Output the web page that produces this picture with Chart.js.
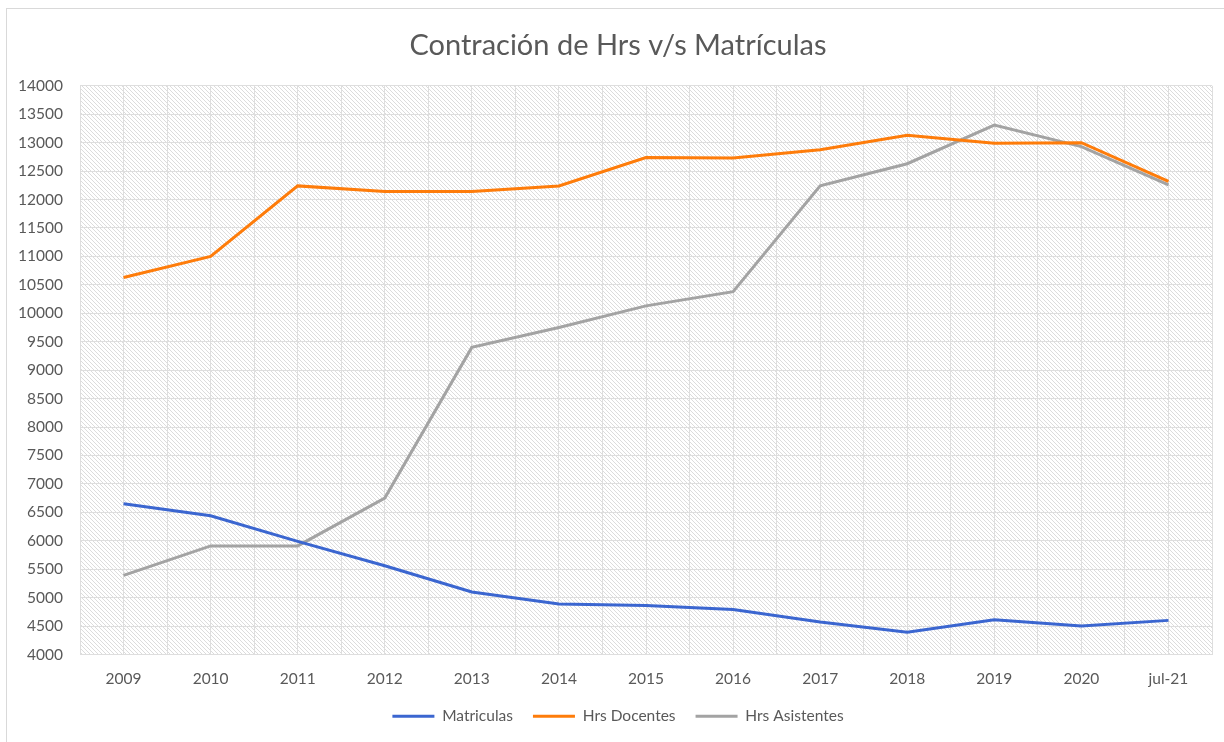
<!DOCTYPE html>
<html>
<head>
<meta charset="utf-8">
<script src="https://cdn.jsdelivr.net/npm/chart.js@4/dist/chart.umd.min.js"></script>
<style>
  html, body { margin: 0; padding: 0; background: #fff; }
  #wrap { position: absolute; left: 0; top: 0; width: 1224px; height: 742px; }
  #frame { position: absolute; left: 6px; top: 8px; width: 1230px; height: 760px;
           border-left: 1px solid #d9d9d9; border-top: 1px solid #d9d9d9; pointer-events: none; }
</style>
</head>
<body>
<div id="wrap">
  <canvas id="grafico" width="1224" height="742"></canvas>
  <div id="frame"></div>
</div>
<script>
// categorias del eje X
const anios = ['2009','2010','2011','2012','2013','2014','2015','2016','2017','2018','2019','2020','jul-21'];

// valores
const matriculas    = [6650, 6440, 5990, 5560, 5100, 4890, 4860, 4790, 4570, 4390, 4610, 4500, 4600];
const hrsDocentes   = [10630, 11000, 12240, 12140, 12140, 12240, 12740, 12730, 12875, 13130, 12990, 13000, 12320];
const hrsAsistentes = [5390, 5910, 5910, 6750, 9400, 9750, 10130, 10380, 12240, 12630, 13310, 12930, 12260];

const fuente = 'Lato, "Open Sans", sans-serif';
const gris = '#595959';
const colorGrilla = '#dedede';

// patron rayado del fondo (como el de Excel)
function crearRayado() {
    const c = document.createElement('canvas');
    c.width = 4; c.height = 4;
    const g = c.getContext('2d');
    g.fillStyle = '#ffffff';
    g.fillRect(0, 0, 4, 4);
    g.fillStyle = '#dcdcdc';
    for (let i = 0; i < 4; i++) {
        g.fillRect(i, i, 1, 1);
    }
    return g.createPattern(c, 'repeat');
}

const fondoRayado = {
    id: 'fondoRayado',
    // en Excel el titulo y la leyenda quedan un poco mas a la derecha
    afterLayout(chart) {
        if (chart.titleBlock) chart.titleBlock.left = 24;
        if (chart.legend) chart.legend.left = 24;
    },
    beforeDraw(chart) {
        const {ctx, chartArea} = chart;
        ctx.save();
        ctx.fillStyle = crearRayado();
        ctx.fillRect(chartArea.left, chartArea.top, chartArea.right - chartArea.left, chartArea.bottom - chartArea.top);
        ctx.restore();
    }
};

function serie(label, data, color) {
    return {
        label: label,
        data: data,
        borderColor: color,
        backgroundColor: color,
        borderWidth: 3,
        pointRadius: 0,
        pointHoverRadius: 0,
        tension: 0,
        fill: false
    };
}

new Chart(document.getElementById('grafico'), {
    type: 'line',
    data: {
        labels: anios,
        datasets: [
            serie('Matriculas', matriculas, '#3b66d0'),
            serie('Hrs Docentes', hrsDocentes, '#fe7c0a'),
            serie('Hrs Asistentes', hrsAsistentes, '#a3a3a3')
        ]
    },
    options: {
        responsive: false,
        animation: false,
        layout: { padding: { left: 8, right: 12, top: 5, bottom: 8 } },
        plugins: {
            title: {
                display: true,
                text: 'Contración de Hrs v/s Matrículas',
                color: gris,
                font: { family: fuente, size: 29, weight: 'normal' },
                padding: { top: 23, bottom: 23 }
            },
            legend: {
                position: 'bottom',
                labels: {
                    usePointStyle: true,
                    pointStyle: 'line',
                    pointStyleWidth: 42,
                    color: gris,
                    font: { family: fuente, size: 15.5 },
                    padding: 20,
                    boxHeight: 15.5
                }
            },
            tooltip: { enabled: false }
        },
        scales: {
            x: {
                offset: true,
                grid: { offset: false, color: colorGrilla, drawTicks: false },
                border: { color: colorGrilla },
                ticks: { color: gris, font: { family: fuente, size: 15.5 }, padding: 15, maxRotation: 0 },
                afterFit(scale) { scale.height = 34; }
            },
            x2: {
                position: 'bottom',
                offset: true,
                labels: anios,
                grid: { offset: true, color: colorGrilla, drawTicks: false },
                border: { display: false },
                ticks: { display: false },
                afterFit(scale) { scale.height = 0; }
            },
            y: {
                min: 4000,
                max: 14000,
                grid: { color: colorGrilla, drawTicks: false },
                border: { display: false },
                ticks: {
                    stepSize: 500,
                    color: gris,
                    font: { family: fuente, size: 15.5 },
                    padding: 17,
                    callback: (v) => String(v)
                },
                afterFit(scale) { scale.width = 72; }
            }
        }
    },
    plugins: [fondoRayado]
});
</script>
</body>
</html>
